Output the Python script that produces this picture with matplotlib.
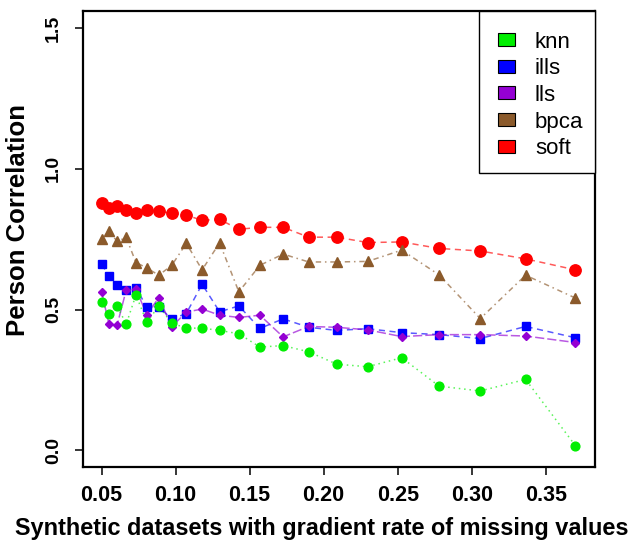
import matplotlib
matplotlib.use("Agg")
import matplotlib.pyplot as plt
from matplotlib.patches import Rectangle

plt.rcParams['font.family'] = ['Liberation Sans', 'DejaVu Sans']

rates = [0.05, 0.055, 0.0605, 0.0666, 0.0732, 0.0805, 0.0886, 0.0974, 0.1072,
         0.1179, 0.1297, 0.1427, 0.1569, 0.1726, 0.1899, 0.2089, 0.2297,
         0.2527, 0.2780, 0.3058, 0.3364, 0.3700]

knn = [0.528, 0.484, 0.513, 0.448, 0.552, 0.455, 0.512, 0.452, 0.434, 0.434,
       0.426, 0.414, 0.367, 0.372, 0.350, 0.306, 0.297, 0.329, 0.228, 0.211,
       0.252, 0.017]
ills = [0.661, 0.619, 0.587, 0.569, 0.576, 0.510, 0.510, 0.466, 0.486, 0.590,
        0.492, 0.513, 0.433, 0.467, 0.437, 0.426, 0.432, 0.418, 0.411, 0.397,
        0.440, 0.400]
lls = [0.562, 0.448, 0.445, 0.569, 0.573, 0.482, 0.542, 0.439, 0.491, 0.502,
       0.480, 0.472, 0.480, 0.403, 0.440, 0.437, 0.428, 0.404, 0.411, 0.411,
       0.406, 0.383]
bpca = [0.749, 0.779, 0.742, 0.756, 0.667, 0.648, 0.622, 0.657, 0.735, 0.641,
        0.737, 0.563, 0.657, 0.697, 0.669, 0.669, 0.671, 0.711, 0.623, 0.468,
        0.622, 0.541]
soft = [0.880, 0.859, 0.866, 0.852, 0.842, 0.852, 0.849, 0.842, 0.835, 0.817,
        0.820, 0.785, 0.792, 0.792, 0.757, 0.757, 0.738, 0.740, 0.717, 0.708,
        0.680, 0.641]

methods = ['knn', 'ills', 'lls', 'bpca', 'soft']
colors = {'knn': '#00EE00', 'ills': '#0000FF', 'lls': '#9400D3',
          'bpca': '#8B5A2B', 'soft': '#FF0000'}
series = {'knn': knn, 'ills': ills, 'lls': lls, 'bpca': bpca, 'soft': soft}
styles = {
    'soft': dict(marker='o', ms=8.2, ls=(0, (4, 3))),
    'bpca': dict(marker='^', ms=7, ls=(0, (1, 2.5, 3.5, 2.5))),
    'ills': dict(marker='s', ms=6, ls=(0, (4, 3))),
    'lls': dict(marker='D', ms=3.8, ls=(0, (6, 2))),
    'knn': dict(marker='o', ms=6.3, ls=(0, (1, 2.5))),
}

W, H = 631, 545
fig = plt.figure(figsize=(W / 100, H / 100), dpi=100)
ax = fig.add_axes([0.131, 0.1426, 0.812, 0.8372])

for m in ['soft', 'bpca', 'ills', 'lls', 'knn']:
    st = styles[m]
    ax.plot(rates, series[m], color=colors[m], lw=1.1, ls=st['ls'], alpha=0.65,
            zorder=2)
    ax.plot(rates, series[m], color=colors[m], lw=0, marker=st['marker'],
            ms=st['ms'], mec=colors[m], zorder=3)

ax.set_xlim(0.0372, 0.3833)
ax.set_ylim(-0.06, 1.56)
xt = [0.05, 0.10, 0.15, 0.20, 0.25, 0.30, 0.35]
ax.set_xticks(xt)
ax.set_xticklabels([f"{v:.2f}" for v in xt], fontweight='bold', fontsize=15.5)
yt = [0.0, 0.5, 1.0, 1.5]
ax.set_yticks(yt)
ax.set_yticklabels([f"{v:.1f}" for v in yt], fontweight='bold', fontsize=14,
                   rotation=90, va='center')
ax.tick_params(axis='x', direction='out', length=6, width=1.1, pad=7)
ax.tick_params(axis='y', direction='out', length=6, width=1.1, pad=9)
for s in ax.spines.values():
    s.set_linewidth(1.6)


def fx(px):
    return px / W


def fy(py):
    return 1 - py / H


fig.text(fx(321.5), fy(535), "Synthetic datasets with gradient rate of missing values",
         fontweight='bold', fontsize=16.9, ha='center', va='baseline')
fig.text(fx(25), fy(220.5), "Person Correlation", fontweight='bold',
         fontsize=18.5, rotation=90, rotation_mode='anchor', ha='center',
         va='baseline')

# legend box (drawn in figure pixel coordinates)
fig.patches.append(Rectangle((fx(478.5), fy(172.5)), fx(595) - fx(478.5),
                             fy(11) - fy(172.5), transform=fig.transFigure,
                             facecolor='white', edgecolor='black', lw=1.0,
                             zorder=5))
rows = [39.5, 66.2, 92.9, 119.6, 146.3]
for m, ry in zip(methods, rows):
    fig.patches.append(Rectangle((fx(498), fy(ry + 6.5)), fx(515) - fx(498),
                                 fy(ry - 6.5) - fy(ry + 6.5),
                                 transform=fig.transFigure,
                                 facecolor=colors[m], edgecolor='black',
                                 lw=0.8, zorder=6))
    fig.text(fx(535), fy(ry), m, fontsize=16, va='center_baseline', ha='left',
             zorder=7)

fig.savefig("out.png", dpi=100)
